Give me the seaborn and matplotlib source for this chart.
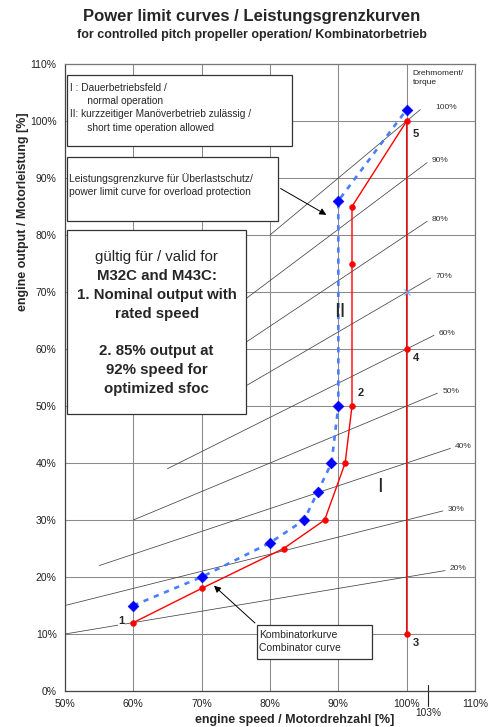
import numpy as np
import pandas as pd
import matplotlib
matplotlib.use("Agg")
import matplotlib.pyplot as plt
from matplotlib.patches import Rectangle
import seaborn as sns

# speed / power in % of nominal
combi_speed = [60, 70, 82, 88, 91, 92, 92, 92, 100, 100, 100]
combi_power = [12, 18, 25, 30, 40, 50, 75, 85, 100, 60, 10]
limit_speed = [60, 70, 80, 85, 87, 89, 90, 90, 100]
limit_power = [15, 20, 26, 30, 35, 40, 50, 86, 102]
# constant torque lines: level, start speed, end speed
torque_levels = [20, 30, 40, 50, 60, 70, 80, 90, 100]
torque_start = [50, 50, 55, 60, 65, 70, 72, 75, 80]
torque_end = [105.6, 105.3, 106.4, 104.5, 104, 103.5, 103, 103, 102]
point_labels = ["1", "2", "5", "4", "3"]
point_label_pos = [(58.3, 12.3), (93.3, 52.3), (101.3, 97.8), (101.4, 58.4), (101.4, 8.4)]
x_ticks = [50, 60, 70, 80, 90, 100, 110]
y_ticks = [0, 10, 20, 30, 40, 50, 60, 70, 80, 90, 100, 110]
valid_lines = ["gültig für / valid for", "M32C and M43C:", "1. Nominal output with",
               "rated speed", "", "2. 85% output at", "92% speed for", "optimized sfoc"]

sns.set_style("white")
plt.rcParams['font.family'] = ['Liberation Sans', 'DejaVu Sans']

fig = plt.figure(figsize=(4.91, 7.27), dpi=100)
ax = fig.add_axes([65 / 491, 36 / 727, 410 / 491, 627 / 727])

# torque lines
rows = []
for t, s, e in zip(torque_levels, torque_start, torque_end):
    rows.append({"torque": t, "speed": s, "power": t * s / 100})
    rows.append({"torque": t, "speed": e, "power": t * e / 100})
tq = pd.DataFrame(rows)
sns.lineplot(data=tq, x="speed", y="power", units="torque", estimator=None,
             color="#444444", lw=0.55, ax=ax, zorder=2)
for t, e in zip(torque_levels, torque_end):
    gap = 2.2 if t == 100 else 0.7
    ax.text(e + gap, t * e / 100 + 0.3, f"{t}%", fontsize=6, color="#333333",
            va="center", ha="left", zorder=5)
ax.text(100.9, 109, "Drehmoment/\ntorque", fontsize=6, va="top", ha="left",
        color="#222222", linespacing=1.5)

# power limit curve (blue dashed)
lim = pd.DataFrame({"speed": limit_speed, "power": limit_power})
sns.lineplot(data=lim, x="speed", y="power", sort=False, estimator=None,
             color="#4a7dff", lw=1.9, dashes=False, ax=ax, zorder=4)
ax.lines[-1].set_dashes((2.0, 2.2))
sns.scatterplot(data=lim, x="speed", y="power", marker="D", s=30,
                color="#0000ff", edgecolor="#0000ff", ax=ax, zorder=5)

# combinator curve (red)
com = pd.DataFrame({"speed": combi_speed, "power": combi_power})
sns.lineplot(data=com, x="speed", y="power", sort=False, estimator=None,
             color="#ff0000", lw=1.0, ax=ax, zorder=4)
sns.scatterplot(data=com, x="speed", y="power", marker="o", s=18,
                color="#ff0000", edgecolor="#ff0000", ax=ax, zorder=5)
ax.plot([100], [70], marker="x", color="#7fa6ff", ms=5, mew=0.8, zorder=5)

for lab, (px, py) in zip(point_labels, point_label_pos):
    ax.text(px, py, lab, fontsize=8, fontweight="bold", ha="center", va="center",
            zorder=6, bbox=dict(fc="white", ec="none", pad=0.3) if lab == "1" else None)

ax.text(90.2, 66.5, "II", fontsize=15, ha="center", va="center", zorder=6)
ax.text(96.1, 35.8, "I", fontsize=15, ha="center", va="center", zorder=6)

# text boxes
def box(x0, x1, y0, y1):
    ax.add_patch(Rectangle((x0, y0), x1 - x0, y1 - y0, fc="white",
                           ec="#333333", lw=0.9, zorder=3))

box(50.3, 83.2, 95.6, 108.1)
ax.text(50.8, 106.6, "I : Dauerbetriebsfeld /\n      normal operation\n"
        "II: kurzzeitiger Manöverbetrieb zulässig /\n      short time operation allowed",
        fontsize=7.3, va="top", ha="left", linespacing=1.38, zorder=6)

box(50.3, 81.2, 82.5, 93.7)
ax.text(50.6, 88.8, "Leistungsgrenzkurve für Überlastschutz/\npower limit curve for overload protection",
        fontsize=7.4, va="center", ha="left", linespacing=1.38, zorder=6)
ax.annotate("", xy=(88.6, 83.3), xytext=(81.2, 88.4),
            arrowprops=dict(arrowstyle="-|>", color="black", lw=0.7, mutation_scale=10),
            zorder=6)

box(50.3, 76.5, 48.6, 80.9)
for i, line in enumerate(valid_lines):
    ax.text(63.4, 76.1 - 3.3 * i, line, fontsize=10.8,
            fontweight="normal" if i == 0 else "bold",
            ha="center", va="center", zorder=6)

box(78.1, 94.9, 5.6, 11.6)
ax.text(78.4, 8.7, "Kombinatorkurve\nCombinator curve", fontsize=7.5, va="center",
        ha="left", linespacing=1.3, zorder=6)
ax.annotate("", xy=(71.5, 18.8), xytext=(78.1, 11.6),
            arrowprops=dict(arrowstyle="-|>", color="black", lw=0.7, mutation_scale=10),
            zorder=6)

# 103 % marker
ax.plot([103.1, 103.1], [1.0, -2.6], color="#222222", lw=0.8, clip_on=False)
ax.text(103.1, -3.9, "103%", fontsize=7.3, ha="center", va="center", color="#222222")

ax.set_xlim(50, 110)
ax.set_ylim(0, 110)
ax.set_xticks(x_ticks)
ax.set_yticks(y_ticks)
ax.set_xticklabels([f"{v}%" for v in x_ticks], fontsize=7.5, color="#222222")
ax.set_yticklabels([f"{v}%" for v in y_ticks], fontsize=7.5, color="#222222")
ax.tick_params(axis="x", length=0, pad=6.0)
ax.tick_params(axis="y", length=3, width=0.7, color="#555555", pad=3)
ax.grid(True, color="#8a8a8a", lw=0.75, zorder=0)
ax.set_axisbelow(True)
for sp in ax.spines.values():
    sp.set_color("#777777")
    sp.set_linewidth(0.9)
ax.spines["left"].set_color("#444444")
ax.spines["bottom"].set_color("#444444")
ax.set_xlabel("engine speed / Motordrehzahl [%]", fontsize=9, fontweight="bold")
ax.set_ylabel("engine output / Motorleistung [%]", fontsize=9, fontweight="bold")
ax.xaxis.set_label_coords(0.56, -0.036)
ax.yaxis.set_label_coords(-0.088, 0.764)

fig.text(0.513, 1 - 17 / 727, "Power limit curves / Leistungsgrenzkurven",
         fontsize=12, fontweight="bold", ha="center", va="center")
fig.text(0.513, 1 - 35 / 727, "for controlled pitch propeller operation/ Kombinatorbetrieb",
         fontsize=9, fontweight="bold", ha="center", va="center")

fig.savefig("out.png", dpi=100)
